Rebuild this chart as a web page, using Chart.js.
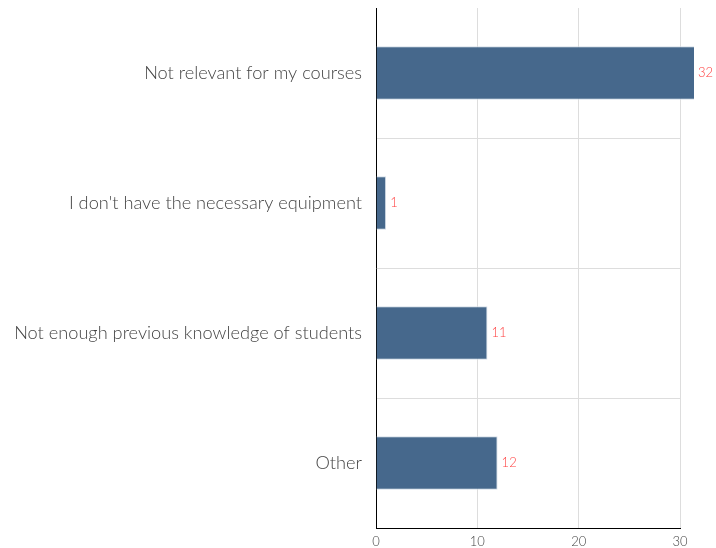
<!DOCTYPE html>
<html>
<head>
<meta charset="utf-8">
<script src="https://cdn.jsdelivr.net/npm/chart.js@4/dist/chart.umd.min.js"></script>
<style>
html,body{margin:0;padding:0;background:#fff;}
#wrap{width:716px;height:548px;position:relative;}
</style>
</head>
<body>
<div id="wrap"><canvas id="c" width="716" height="548"></canvas></div>
<script>
const categories = [
  "Not relevant for my courses",
  "I don't have the necessary equipment",
  "Not enough previous knowledge of students",
  "Other"
];
const counts = [32, 1, 11, 12];
const xTicks = [0, 10, 20, 30];

const FONT = "Lato";

const valueLabels = {
  id: 'valueLabels',
  afterDatasetsDraw(chart) {
    const ctx = chart.ctx;
    const meta = chart.getDatasetMeta(0);
    const limit = chart.chartArea.right + 14;
    ctx.save();
    ctx.font = "300 13px " + FONT;
    ctx.fillStyle = '#ff4040';
    ctx.textAlign = 'left';
    ctx.textBaseline = 'middle';
    meta.data.forEach((bar, i) => {
      const x = Math.min(bar.x, limit) + 4;
      ctx.fillText(String(counts[i]), x, bar.y);
    });
    ctx.restore();
  }
};

new Chart(document.getElementById('c'), {
  type: 'bar',
  data: {
    labels: categories,
    datasets: [{
      data: counts,
      backgroundColor: '#46688c',
      borderColor: '#d5dee8',
      borderWidth: 1,
      borderSkipped: 'start',
      barPercentage: 0.41,
      categoryPercentage: 1,
      clip: {left: 0, top: 0, right: 14, bottom: 0}
    }]
  },
  options: {
    indexAxis: 'y',
    responsive: false,
    animation: false,
    layout: { padding: { top: 8, right: 36, left: 0, bottom: 0 } },
    plugins: { legend: { display: false }, tooltip: { enabled: false } },
    scales: {
      x: {
        min: 0, max: 30,
        afterBuildTicks(s) { s.ticks = xTicks.map(v => ({ value: v })); },
        afterFit(s) { s.height = 20; },
        grid: { color: '#dddddd', drawTicks: false },
        border: { display: true, color: '#000', width: 1 },
        ticks: { padding: 6, color: '#444', font: { family: FONT, size: 13, weight: 300 } }
      },
      y: {
        afterFit(s) { s.width = 376; s.paddingTop = 0; s.paddingBottom = 0; },
        grid: {
          color: (c) => (c.index === 0 ? 'rgba(0,0,0,0)' : '#dddddd'),
          drawTicks: false
        },
        border: { display: true, color: '#000', width: 1 },
        ticks: { padding: 14, color: '#444', font: { family: FONT, size: 18.2, weight: 300 } }
      }
    }
  },
  plugins: [valueLabels]
});
</script>
</body>
</html>
